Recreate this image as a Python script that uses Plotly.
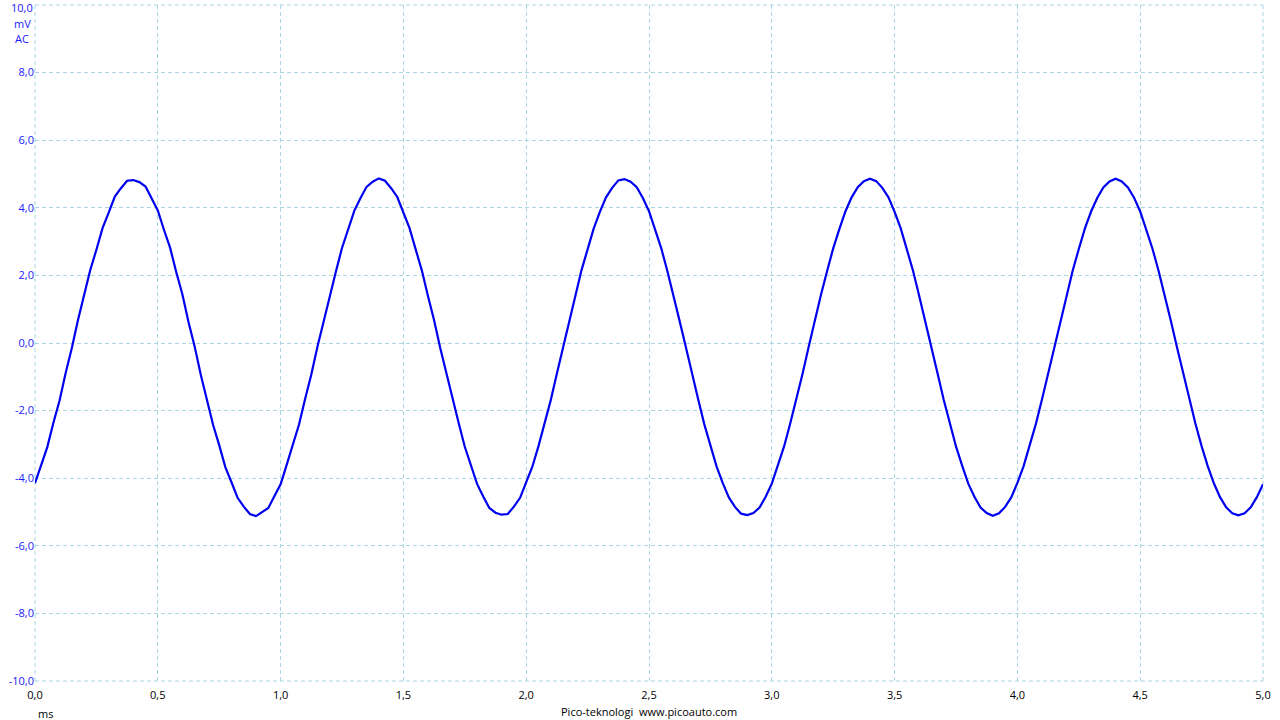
import numpy as np
import plotly.graph_objects as go

# Sample interval (ms) and read-off waveform values (mV)
sample_step_ms = 0.025
cycle1 = [-4.15,-3.62,-3.08,-2.36,-1.70,-0.88,-0.15,0.68,1.38,2.16,2.76,3.40,3.86,4.33,4.58,4.80,4.82,4.76,4.63,4.27,
          3.92,3.35,2.82,2.10,1.44,0.62,-0.10,-0.94,-1.64,-2.42,-3.02,-3.67,-4.12,-4.58,-4.84,-5.06,-5.12,-5.01,-4.88,-4.53]
cycle2 = [-4.18,-3.60,-3.03,-2.41,-1.65,-0.93,-0.11,0.63,1.43,2.11,2.81,3.36,3.91,4.28,4.62,4.77,4.87,4.80,4.58,4.32,
          3.87,3.40,2.77,2.15,1.39,0.67,-0.15,-0.89,-1.69,-2.37,-3.07,-3.61,-4.17,-4.54,-4.88,-5.02,-5.08,-5.06,-4.84,-4.58]
cycle3 = [-4.13,-3.66,-3.05,-2.37,-1.69,-0.90,-0.14,0.66,1.40,2.15,2.77,3.39,3.88,4.31,4.59,4.81,4.85,4.77,4.61,4.29,
          3.90,3.36,2.80,2.12,1.42,0.64,-0.12,-0.92,-1.66,-2.40,-3.04,-3.65,-4.14,-4.57,-4.85,-5.05,-5.09,-5.03,-4.87,-4.55]
cycle4 = [-4.16,-3.63,-3.06,-2.38,-1.66,-0.92,-0.12,0.67,1.42,2.12,2.80,3.37,3.90,4.31,4.61,4.79,4.86,4.79,4.59,4.31,
          3.88,3.39,2.78,2.14,1.40,0.66,-0.14,-0.90,-1.68,-2.38,-3.06,-3.63,-4.16,-4.55,-4.87,-5.03,-5.11,-5.04,-4.85,-4.57]
cycle5 = [-4.14,-3.65,-3.04,-2.40,-1.67,-0.91,-0.13,0.64,1.41,2.14,2.78,3.39,3.89,4.29,4.60,4.78,4.86,4.78,4.60,4.30,
          3.89,3.37,2.79,2.13,1.41,0.65,-0.13,-0.91,-1.67,-2.39,-3.05,-3.64,-4.15,-4.56,-4.86,-5.04,-5.10,-5.04,-4.86,-4.56]
last_value = [-4.18]

voltage_mv = cycle1 + cycle2 + cycle3 + cycle4 + cycle5 + last_value
time_ms = [round(i * sample_step_ms, 3) for i in range(len(voltage_mv))]

x_ticks = [0.0, 0.5, 1.0, 1.5, 2.0, 2.5, 3.0, 3.5, 4.0, 4.5, 5.0]
x_tick_labels = ["0,0", "0,5", "1,0", "1,5", "2,0", "2,5", "3,0", "3,5", "4,0", "4,5", "5,0"]
y_ticks = [-10, -8, -6, -4, -2, 0, 2, 4, 6, 8, 10]
y_tick_labels = ["-10,0", "-8,0", "-6,0", "-4,0", "-2,0", "0,0", "2,0", "4,0", "6,0", "8,0", "10,0"]

FONT = "Open Sans"
GRID = "#a9d6e3"
BLUE_TXT = "#1a1aff"

fig = go.Figure()
fig.add_trace(go.Scatter(x=time_ms, y=voltage_mv, mode="lines",
                         line=dict(color="#0000f0", width=2.2), showlegend=False))

fig.update_layout(
    width=1280, height=720,
    margin=dict(l=35, r=17, t=5, b=39, autoexpand=False),
    paper_bgcolor="white", plot_bgcolor="white",
    font=dict(family=FONT, size=11, color="black"),
    xaxis=dict(range=[0, 5], tickvals=x_ticks, ticktext=x_tick_labels, automargin=False,
               showgrid=True, gridcolor=GRID, griddash="4px,3px", gridwidth=1,
               zeroline=False, showline=False, ticks="", ticklen=0, ticklabelstandoff=6,
               tickfont=dict(family=FONT, size=11, color="black")),
    yaxis=dict(range=[-10, 10], tickvals=y_ticks[:-1], ticktext=y_tick_labels[:-1], automargin=False,
               showgrid=True, gridcolor=GRID, griddash="4px,3px", gridwidth=1,
               zeroline=False, showline=False, ticks="", ticklen=0,
               tickfont=dict(family=FONT, size=11, color=BLUE_TXT)),
    shapes=[
        dict(type="line", xref="paper", yref="paper", x0=0, x1=1, y0=1, y1=1,
             line=dict(color=GRID, width=1, dash="4px,3px"), layer="below"),
        dict(type="line", xref="paper", yref="paper", x0=1, x1=1, y0=0, y1=1,
             line=dict(color=GRID, width=1, dash="4px,3px"), layer="below"),
        dict(type="line", xref="paper", yref="paper", x0=0, x1=1, y0=0, y1=0,
             line=dict(color=GRID, width=1, dash="4px,3px"), layer="below"),
        dict(type="line", xref="paper", yref="paper", x0=0, x1=0, y0=0, y1=1,
             line=dict(color=GRID, width=1, dash="4px,3px"), layer="below"),
    ],
    annotations=[
        dict(text=y_tick_labels[-1], x=0, xref="paper", xanchor="right", xshift=-1,
             y=1, yref="paper", yanchor="top", yshift=6, borderpad=0, showarrow=False,
             font=dict(family=FONT, size=11, color=BLUE_TXT)),
        dict(text="mV", x=0, xref="paper", xanchor="right", xshift=-2, y=1, yref="paper",
             yanchor="top", yshift=-9, showarrow=False, font=dict(family=FONT, size=11, color=BLUE_TXT)),
        dict(text="AC", x=0, xref="paper", xanchor="right", xshift=-4, y=1, yref="paper",
             yanchor="top", yshift=-24, showarrow=False, font=dict(family=FONT, size=11, color=BLUE_TXT)),
        dict(text="ms", x=0, xref="paper", xanchor="left", xshift=1, y=0, yref="paper",
             yanchor="top", yshift=-23, showarrow=False, font=dict(family=FONT, size=11, color="black")),
        dict(text="Pico-teknologi  www.picoauto.com", x=0.5, xref="paper", xanchor="center",
             y=0, yref="paper", yanchor="top", yshift=-21, showarrow=False,
             font=dict(family=FONT, size=11, color="black")),
    ],
)

fig.write_html("out.html", config={"displayModeBar": False},
               post_script="document.body.style.margin='0';document.body.style.overflow='hidden';")
